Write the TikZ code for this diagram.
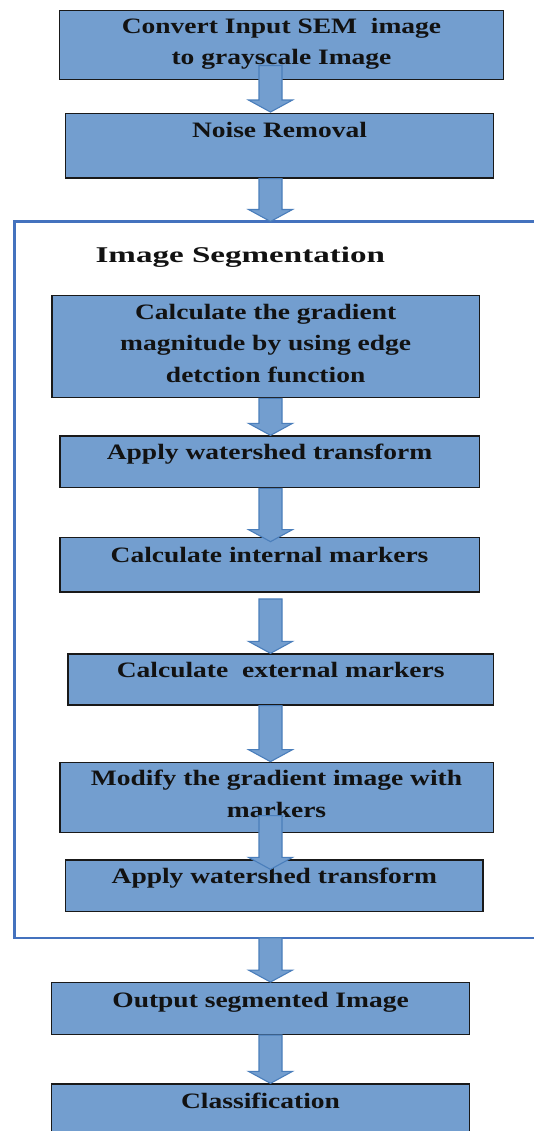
\documentclass[tikz,border=0pt]{standalone}
\usepackage{fontspec}
\setmainfont{Liberation Serif}[FakeStretch=1.25]
\newfontfamily\titlefont{Liberation Serif}[FakeStretch=1.47]
\usetikzlibrary{calc}
\definecolor{boxfill}{RGB}{115,158,207}
\definecolor{arrowline}{RGB}{74,126,187}
\definecolor{framecol}{RGB}{68,114,190}
\definecolor{txtcol}{RGB}{18,18,18}
\tikzset{
  procbox/.style={draw=black!90, line width=1.3pt, fill=boxfill, rectangle, inner sep=0pt},
  boxtext/.style={anchor=north, inner sep=0pt, align=center, text=txtcol,
    font=\fontsize{22}{31.5}\selectfont\bfseries},
  titletext/.style={anchor=base west, inner sep=0pt, text=txtcol,
    font=\titlefont\fontsize{22.5}{27}\selectfont\bfseries},
  arrowst/.style={fill=boxfill, draw=arrowline, line width=1.1pt, line join=miter},
  framest/.style={draw=framecol, line width=2.4pt},
}
\newcommand\fl{\rule{0pt}{16pt}}
\newcommand\blockarrow[4]{%
  \path ($(#1 -| ax)+(0,#2)$) coordinate (as) ($(#3 -| ax)+(0,#4)$) coordinate (ae);
  \filldraw[arrowst] ($(as)+(-11.5,0)$) -- ($(ae)+(-11.5,-12)$) -- ($(ae)+(-22,-12)$)
    -- (ae) -- ($(ae)+(22,-12)$) -- ($(ae)+(11.5,-12)$) -- ($(as)+(11.5,0)$) -- cycle;}
\begin{document}
\begin{tikzpicture}[x=1pt,y=-1pt]
\useasboundingbox[fill=white] (0,0) rectangle (534,1131);
\coordinate (ax) at (270.5,0);
\coordinate (ftl) at (14.5,221.5);
\coordinate (fbl) at (14.5,937.7);
\draw[framest] (560,221.5) -- (ftl) -- (fbl) -- (560,937.7);

% boxes
\node[procbox, minimum width=443.8pt, minimum height=68.6pt] (b1) at (281.5,45) {};
\node[procbox, minimum width=427.5pt, minimum height=64.7pt] (b2) at (279.45,145.65) {};
\node[procbox, minimum width=427.1pt, minimum height=102pt] (b3) at (265.65,346.7) {};
\node[procbox, minimum width=419.3pt, minimum height=51.7pt] (b4) at (269.55,461.85) {};
\node[procbox, minimum width=419.3pt, minimum height=54.3pt] (b5) at (269.55,564.85) {};
\node[procbox, minimum width=425.1pt, minimum height=51pt] (b6) at (280.65,679.5) {};
\node[procbox, minimum width=433.3pt, minimum height=70pt] (b7) at (276.55,797.3) {};
\node[procbox, minimum width=417.3pt, minimum height=51.7pt] (b8) at (274.35,885.85) {};
\node[procbox, minimum width=417.5pt, minimum height=51.6pt] (b9) at (260.55,1008.5) {};
\node[procbox, minimum width=417.5pt, minimum height=61pt] (b10) at (260.55,1114.5) {};

% texts
\node[boxtext] (t1) at ($(b1.north)+(0,7)$) {\fl Convert Input SEM\ \ image\\to grayscale Image};
\node[boxtext] (t2) at ($(b2.north)+(0,8.5)$) {\fl Noise Removal};
\node[titletext] (title) at (95.4,262.7) {Image Segmentation};
\node[boxtext] (t3) at ($(b3.north)+(0,8)$) {\fl Calculate the gradient\\magnitude by using edge\\detction function};
\node[boxtext] (t4) at ($(b4.north)+(0,8)$) {\fl Apply watershed transform};
\node[boxtext] (t5) at ($(b5.north)+(0,9)$) {\fl Calculate internal markers};
\node[boxtext] (t6) at ($(b6.north)+(0,7.5)$) {\fl Calculate\ \ external markers};
\node[boxtext] (t7) at ($(b7.north)+(0,7.7)$) {\fl Modify the gradient image with\\markers};
\node[boxtext] (t8) at ($(b8.north)+(0,7.5)$) {\fl Apply watershed transform};
\node[boxtext] (t9) at ($(b9.north)+(0,9.5)$) {\fl Output segmented Image};
\node[boxtext] (t10) at ($(b10.north)+(0,9.3)$) {\fl Classification};

% block arrows
\blockarrow{b1.south}{-14.3}{b2.north}{-0.6}
\blockarrow{b2.south}{0}{ftl}{0}
\blockarrow{b3.south}{0}{b4.north}{0}
\blockarrow{b4.south}{0}{b5.north}{4.6}
\blockarrow{b5.south}{6.3}{b6.north}{0}
\blockarrow{b6.south}{0}{b7.north}{0}
\blockarrow{b7.south}{-17.3}{b8.north}{10}
\blockarrow{fbl}{0}{b9.north}{0}
\blockarrow{b9.south}{0}{b10.north}{0}
\end{tikzpicture}
\end{document}
